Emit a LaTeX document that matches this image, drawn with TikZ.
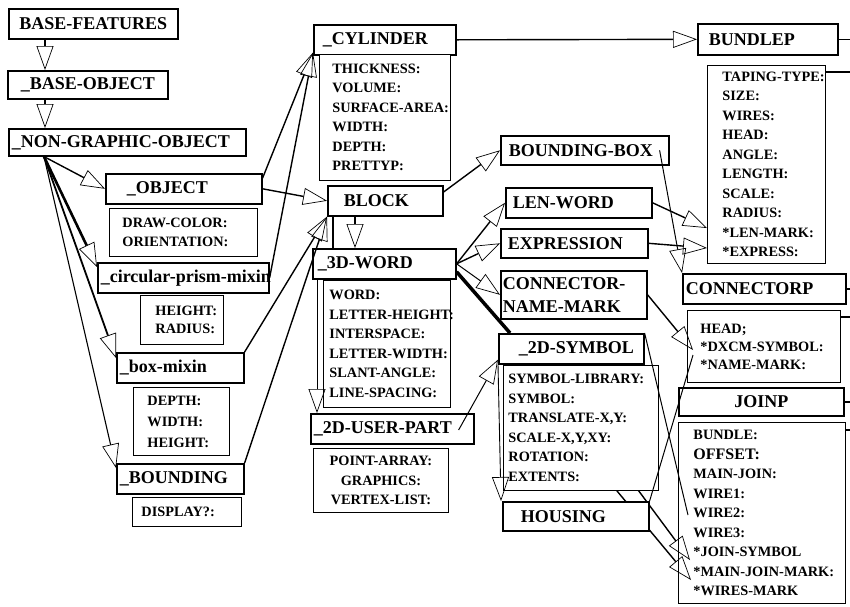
\documentclass[tikz,border=0pt]{standalone}
\usepackage{fontspec}
\setmainfont{Liberation Serif}
\usetikzlibrary{arrows.meta,calc}
\pgfdeclarelayer{behind}
\pgfsetlayers{behind,main}
\hyphenpenalty=10000
\exhyphenpenalty=10000
\newcommand\clsfont{\fontsize{18}{23}\selectfont\bfseries}
\newcommand\attrfont{\fontsize{14.3}{19.5}\selectfont\bfseries}
\tikzset{
  cls/.style={draw, line width=1.6pt, fill=white, anchor=north west,
    inner ysep=0pt, font=\clsfont, align=left},
  attr/.style={draw, line width=0.9pt, fill=white, anchor=north west,
    inner ysep=0pt, font=\attrfont, align=left},
  link/.style={line width=1.4pt},
  isa/.style={link, -{Triangle[open, length=24pt, width=17pt, line width=0.7pt]}},
}
\begin{document}
\begin{tikzpicture}[x=1pt, y=-1pt]
\useasboundingbox (0,0) rectangle (850,606);

% ---------- class boxes ----------
\node[cls, minimum height=30, text width=161, inner xsep=4, align=center] (bf) at (8,8) {BASE-FEATURES};
\node[cls, minimum height=28, text width=134, inner xsep=13] (bo) at (7,70) {\_BASE-OBJECT};
\node[cls, minimum height=27, text width=231, inner xsep=3] (ngo) at (8,128) {\_NON-GRAPHIC-OBJECT};
\node[cls, minimum height=30, text width=114, inner xsep=21] (obj) at (105,173) {\_OBJECT};
\node[cls, minimum height=30, text width=165, inner xsep=3] (cpm) at (97,262) {\_circular-prism-mixin};
\node[cls, minimum height=30, text width=121, inner xsep=3] (bm) at (116,352) {\_box-mixin};
\node[cls, minimum height=30, text width=121, inner xsep=3] (bnd) at (116,463) {\_BOUNDING};
\node[cls, minimum height=30, text width=124, inner xsep=9] (cyl) at (313,24) {\_CYLINDER};
\node[cls, minimum height=31, text width=118, inner xsep=11] (bun) at (697,23) {BUNDLEP};
\node[cls, minimum height=29, text width=152, inner xsep=8] (bbox) at (500,135) {BOUNDING-BOX};
\node[cls, minimum height=30, text width=83, inner xsep=16] (blk) at (327,185) {BLOCK};
\node[cls, minimum height=30, text width=133, inner xsep=5] (w3d) at (312,248) {\_3D-WORD};
\node[cls, minimum height=30, text width=132, inner xsep=7] (lw) at (505,187) {LEN-WORD};
\node[cls, minimum height=29, text width=133, inner xsep=7] (expr) at (500,228) {EXPRESSION};
\node[cls, minimum height=48, text width=142, inner xsep=2] (cnm) at (500,270) {CONNECTOR-\\NAME-MARK};
\node[cls, minimum height=30, text width=157, inner xsep=3] (cnp) at (682,273) {CONNECTORP};
\node[cls, minimum height=30, text width=105, inner xsep=20] (s2d) at (498,333) {\_2D-SYMBOL};
\node[cls, minimum height=30, text width=157, inner xsep=3] (up) at (310,413) {\_2D-USER-PART};
\node[cls, minimum height=29, text width=110, inner xsep=18] (hous) at (502,501) {HOUSING};
\node[cls, minimum height=28, text width=157, inner xsep=4, align=center] (jnp) at (678,387) {JOINP};

% ---------- attribute boxes ----------
\node[attr, minimum height=48, text width=122, inner xsep=13] (objA) at (109,208)
  {DRAW-COLOR:\\ORIENTATION:};
\node[attr, minimum height=49, text width=53, inner xsep=15,
  font=\fontsize{14.3}{18}\selectfont\bfseries] (cpmA) at (140,295)
  {HEIGHT:\\RADIUS:};
\node[attr, minimum height=68, text width=68, inner xsep=14,
  font=\fontsize{14.3}{21}\selectfont\bfseries] (bmA) at (133,387)
  {DEPTH:\\WIDTH:\\HEIGHT:};
\node[attr, minimum height=29, text width=91, inner xsep=9] (bndA) at (132,497)
  {DISPLAY?:};
\node[attr, minimum height=126, text width=105, inner xsep=13] (cylA) at (319,54)
  {THICKNESS:\\VOLUME:\\SURFACE-AREA:\\WIDTH:\\DEPTH:\\PRETTYP:};
\node[attr, minimum height=198, text width=88, inner xsep=15] (bunA) at (707,65)
  {TAPING-TYPE:\\SIZE:\\WIRES:\\HEAD:\\ANGLE:\\LENGTH:\\SCALE:\\RADIUS:\\{*}LEN-MARK:\\{*}EXPRESS:};
\node[attr, minimum height=127, text width=115, inner xsep=6] (wordA) at (323,280)
  {WORD:\\LETTER-HEIGHT:\\INTERSPACE:\\LETTER-WIDTH:\\SLANT-ANGLE:\\LINE-SPACING:};
\node[attr, minimum height=64, text width=127, inner xsep=4, align=center] (upA) at (313,448)
  {POINT-ARRAY:\\GRAPHICS:\\VERTEX-LIST:};
\node[attr, minimum height=125, text width=145, inner xsep=5] (symA) at (503,365)
  {SYMBOL-LIBRARY:\\SYMBOL:\\TRANSLATE-X,Y:\\SCALE-X,Y,XY:\\ROTATION:\\EXTENTS:};
\node[attr, minimum height=72, text width=127, inner xsep=13,
  font=\fontsize{14.3}{18}\selectfont\bfseries] (conA) at (687,310)
  {HEAD;\\{*}DXCM-SYMBOL:\\{*}NAME-MARK:};
\node[attr, fill=none, minimum height=181, text width=137, inner xsep=15] (joinA) at (678,422)
  {BUNDLE:\\{\fontsize{16}{19.5}\selectfont OFFSET:}\\MAIN-JOIN:\\WIRE1:\\WIRE2:\\WIRE3:\\{*}JOIN-SYMBOL\\{*}MAIN-JOIN-MARK:\\{*}WIRES-MARK};

% ---------- connectors ----------
\draw[isa] ($(bf.south west)+(37,0)$) -- ($(bo.north west)+(38,0)$);
\draw[isa] ($(bo.south west)+(38,0)$) -- ($(ngo.north west)+(37,0)$);

\coordinate (ngoA) at ($(ngo.south west)+(36,0)$);
\draw[isa] (ngoA) -- (obj.west);
\draw[isa, line width=2.6pt] (ngoA) -- ($(cpm.north west)+(0,5)$);
\draw[isa, line width=1.8pt] (ngoA) -- ($(bm.north west)+(0,6)$);
\draw[isa, line width=1.1pt] (ngoA) -- ($(bnd.north west)+(0,5)$);

\coordinate (cylT) at ($(cyl.south west)+(0,-3)$);
\draw[isa] ($(obj.north east)+(0,5)$) -- (cylT);
\draw[isa] (cpm.east) -- (cylT);

\draw[isa] (obj.east) -- (blk.west);
\draw[isa] (bm.north east) -- (blk.south west);
\draw[isa] (bnd.north east) -- (blk.south west);

\draw[isa] ($(blk.north east)+(0,7)$) -- (bbox.west);
\draw[isa] ($(blk.south west)+(28,0)$) -- ($(w3d.north west)+(43,0)$);
\draw[link] ($(blk.south west)+(6,0)$) -- ($(w3d.north west)+(21,0)$);
\draw[isa, line width=0.9pt] ($(w3d.south west)+(5,0)$) -- ($(up.north west)+(7,0)$);

\draw[isa] (cyl.east) -- (bun.west);
\draw[link] (bun.east) -- ++(12,0) |- ($(bunA.north east)+(0,7)$);

\draw[isa] (w3d.east) -- (lw.west);
\draw[isa] (w3d.east) -- (expr.west);
\draw[isa, line width=1pt] (w3d.east) -- (cnm.west);
\draw[line width=3.5pt] ($(w3d.east)+(0,8)$) -- ($(s2d.north west)+(12,0)$);

\draw[isa] (lw.east) -- ($(bunA.north west)+(0,163)$);
\draw[isa] (expr.east) -- ($(bunA.north west)+(0,183)$);
\draw[isa, line width=1pt] ($(bbox.east)+(-10,0)$) -- (cnp.north west);
\draw[isa] (cnm.east) -- ($(conA.north west)+(6,40)$);
\draw[link] (cnp.east) -- ++(4,0) |- ($(conA.north east)+(0,7)$);
\draw[link] (jnp.east) -- ++(6,0) |- ($(joinA.north east)+(0,8)$);

\draw[link, line width=1pt] (hous.north east) -- ($(conA.north west)+(6,45)$);
\draw[link, line width=1pt] (s2d.north east) -- ($(joinA.north west)+(10,93)$);
\draw[isa, line width=0.9pt] (s2d.south west) -- ($(hous.north west)+(-1,0)$);
\draw[isa, line width=1pt] ($(up.north east)+(-16,17)$) -- ($(s2d.south west)+(0,-5)$);

\begin{pgfonlayer}{behind}
\draw[isa] ($(s2d.south west)+(47,0)$) -- ($(joinA.north west)+(12,138)$);
\draw[isa] ($(s2d.south west)+(14,0)$) -- ($(joinA.north west)+(13,158)$);
\end{pgfonlayer}
\end{tikzpicture}
\end{document}
